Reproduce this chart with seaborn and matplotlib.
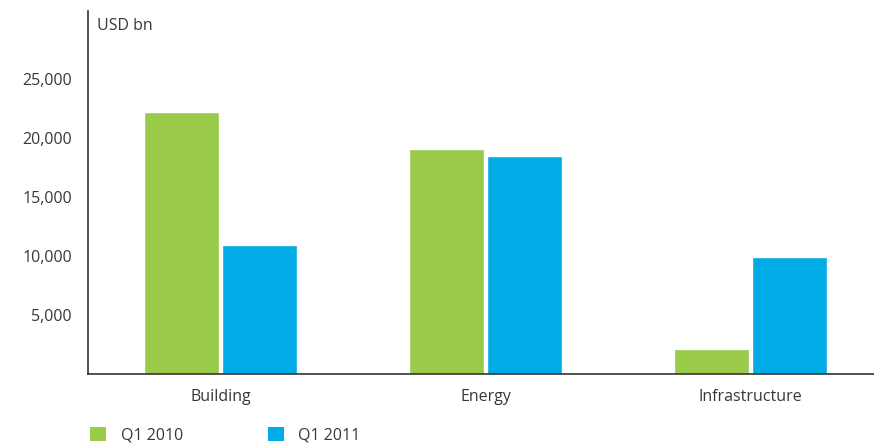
import matplotlib
matplotlib.use("Agg")
import matplotlib.pyplot as plt
from matplotlib.patches import Patch
import pandas as pd
import seaborn as sns

sectors = ["Building", "Energy", "Infrastructure"]
q1_2010 = [22200, 19050, 2100]
q1_2011 = [10950, 18450, 9900]
periods = ["Q1 2010", "Q1 2011"]
colors = ["#99ca4a", "#00abe6"]
yticks = [5000, 10000, 15000, 20000, 25000]

df = pd.DataFrame({
    "sector": sectors * 2,
    "value": q1_2010 + q1_2011,
    "period": [periods[0]] * 3 + [periods[1]] * 3,
})

sns.set_theme(style="white")
plt.rcParams["font.family"] = ["Open Sans", "DejaVu Sans"]
text_col = "#383838"

fig = plt.figure(figsize=(8.74, 4.48), dpi=100)
W, H = 874, 448
ax = fig.add_axes([88 / W, (H - 374) / H, 1 - 88 / W, (374 - 11) / H])

sns.barplot(data=df, x="sector", y="value", hue="period", palette=colors,
            width=0.59, gap=0.05, saturation=1, ax=ax, legend=False)

ax.set_xlim(-0.5, 2.466)
ax.set_ylim(0, 30760)
ax.set_yticks(yticks)
ax.set_yticklabels([f"{v:,}" for v in yticks])
ax.set_xlabel("")
ax.set_ylabel("")
ax.tick_params(axis="both", length=0, labelsize=11.5, labelcolor=text_col)
ax.tick_params(axis="y", pad=11.5)
ax.tick_params(axis="x", pad=11)

for side in ["top", "right"]:
    ax.spines[side].set_visible(False)
for side in ["left", "bottom"]:
    ax.spines[side].set_color("#333333")
    ax.spines[side].set_linewidth(1.2)

fig.text(97 / W, 1 - 26 / H, "USD bn", fontsize=11.5, color=text_col,
         va="center", ha="left")

handles = [Patch(facecolor=c, edgecolor="none") for c in colors]
fig.legend(handles, periods, loc="center left", bbox_to_anchor=(76 / W, 1 - 435 / H),
           ncol=2, frameon=False, fontsize=11.5, handlelength=1.0, handleheight=1.0,
           handletextpad=0.9, columnspacing=5.3, labelcolor=text_col)

fig.savefig("out.png", dpi=100)
